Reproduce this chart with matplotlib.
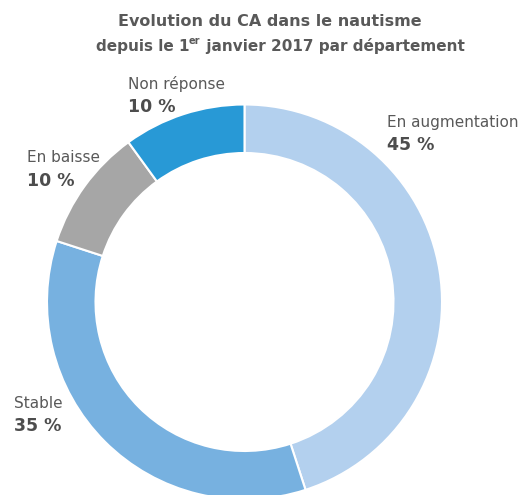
import matplotlib
matplotlib.use("Agg")
import matplotlib.pyplot as plt

# data
labels = ["En augmentation", "Stable", "En baisse", "Non réponse"]
values = [45, 35, 10, 10]
colors = ["#B3D0EE", "#77B1E0", "#A6A6A6", "#2899D6"]

# label positions in pixels (x, y of name line center)
label_pos = [(387, 122), (14, 403), (27, 158), (128, 84)]

W, H = 525, 495
fig = plt.figure(figsize=(W / 100, H / 100), dpi=100)
ax = fig.add_axes([0, 0, 1, 1])

cx, cy, r_out, r_in = 244.5, 302, 197.5, 149
ax.pie(values, colors=colors, startangle=90, counterclock=False,
       center=(cx, H - cy), radius=r_out,
       wedgeprops=dict(width=r_out - r_in, edgecolor="white", linewidth=1.5))
ax.set_xlim(0, W)
ax.set_ylim(0, H)
ax.set_aspect("equal")
ax.axis("off")

txt_col = "#595959"
bold_col = "#4D4D4D"
for lab, val, (px, py) in zip(labels, values, label_pos):
    ax.text(px, H - py, lab, fontsize=11, color=txt_col, ha="left", va="center")
    ax.text(px, H - py - 23, f"{val} %", fontsize=12.5, color=bold_col,
            fontweight="bold", ha="left", va="center")

# title
ax.text(270, H - 22, "Evolution du CA dans le nautisme", fontsize=11.5,
        color=txt_col, fontweight="bold", ha="center", va="center")

# second line with superscript "er"
parts = ["depuis le 1", "er", " janvier 2017 par département"]
sizes = [11, 7, 11]
fig.canvas.draw()
r = fig.canvas.get_renderer()
tmp = []
for p, fs in zip(parts, sizes):
    t = ax.text(0, 0, p, fontsize=fs, fontweight="bold", color=txt_col)
    tmp.append(t)
widths = [t.get_window_extent(r).width for t in tmp]
for t in tmp:
    t.remove()
x0 = 280 - sum(widths) / 2
for i, p in enumerate(parts):
    y = H - 46 + (5 if i == 1 else 0)
    ax.text(x0, y, p, fontsize=sizes[i], fontweight="bold", color=txt_col,
            ha="left", va="center")
    x0 += widths[i]

fig.savefig("out.png", dpi=100)
